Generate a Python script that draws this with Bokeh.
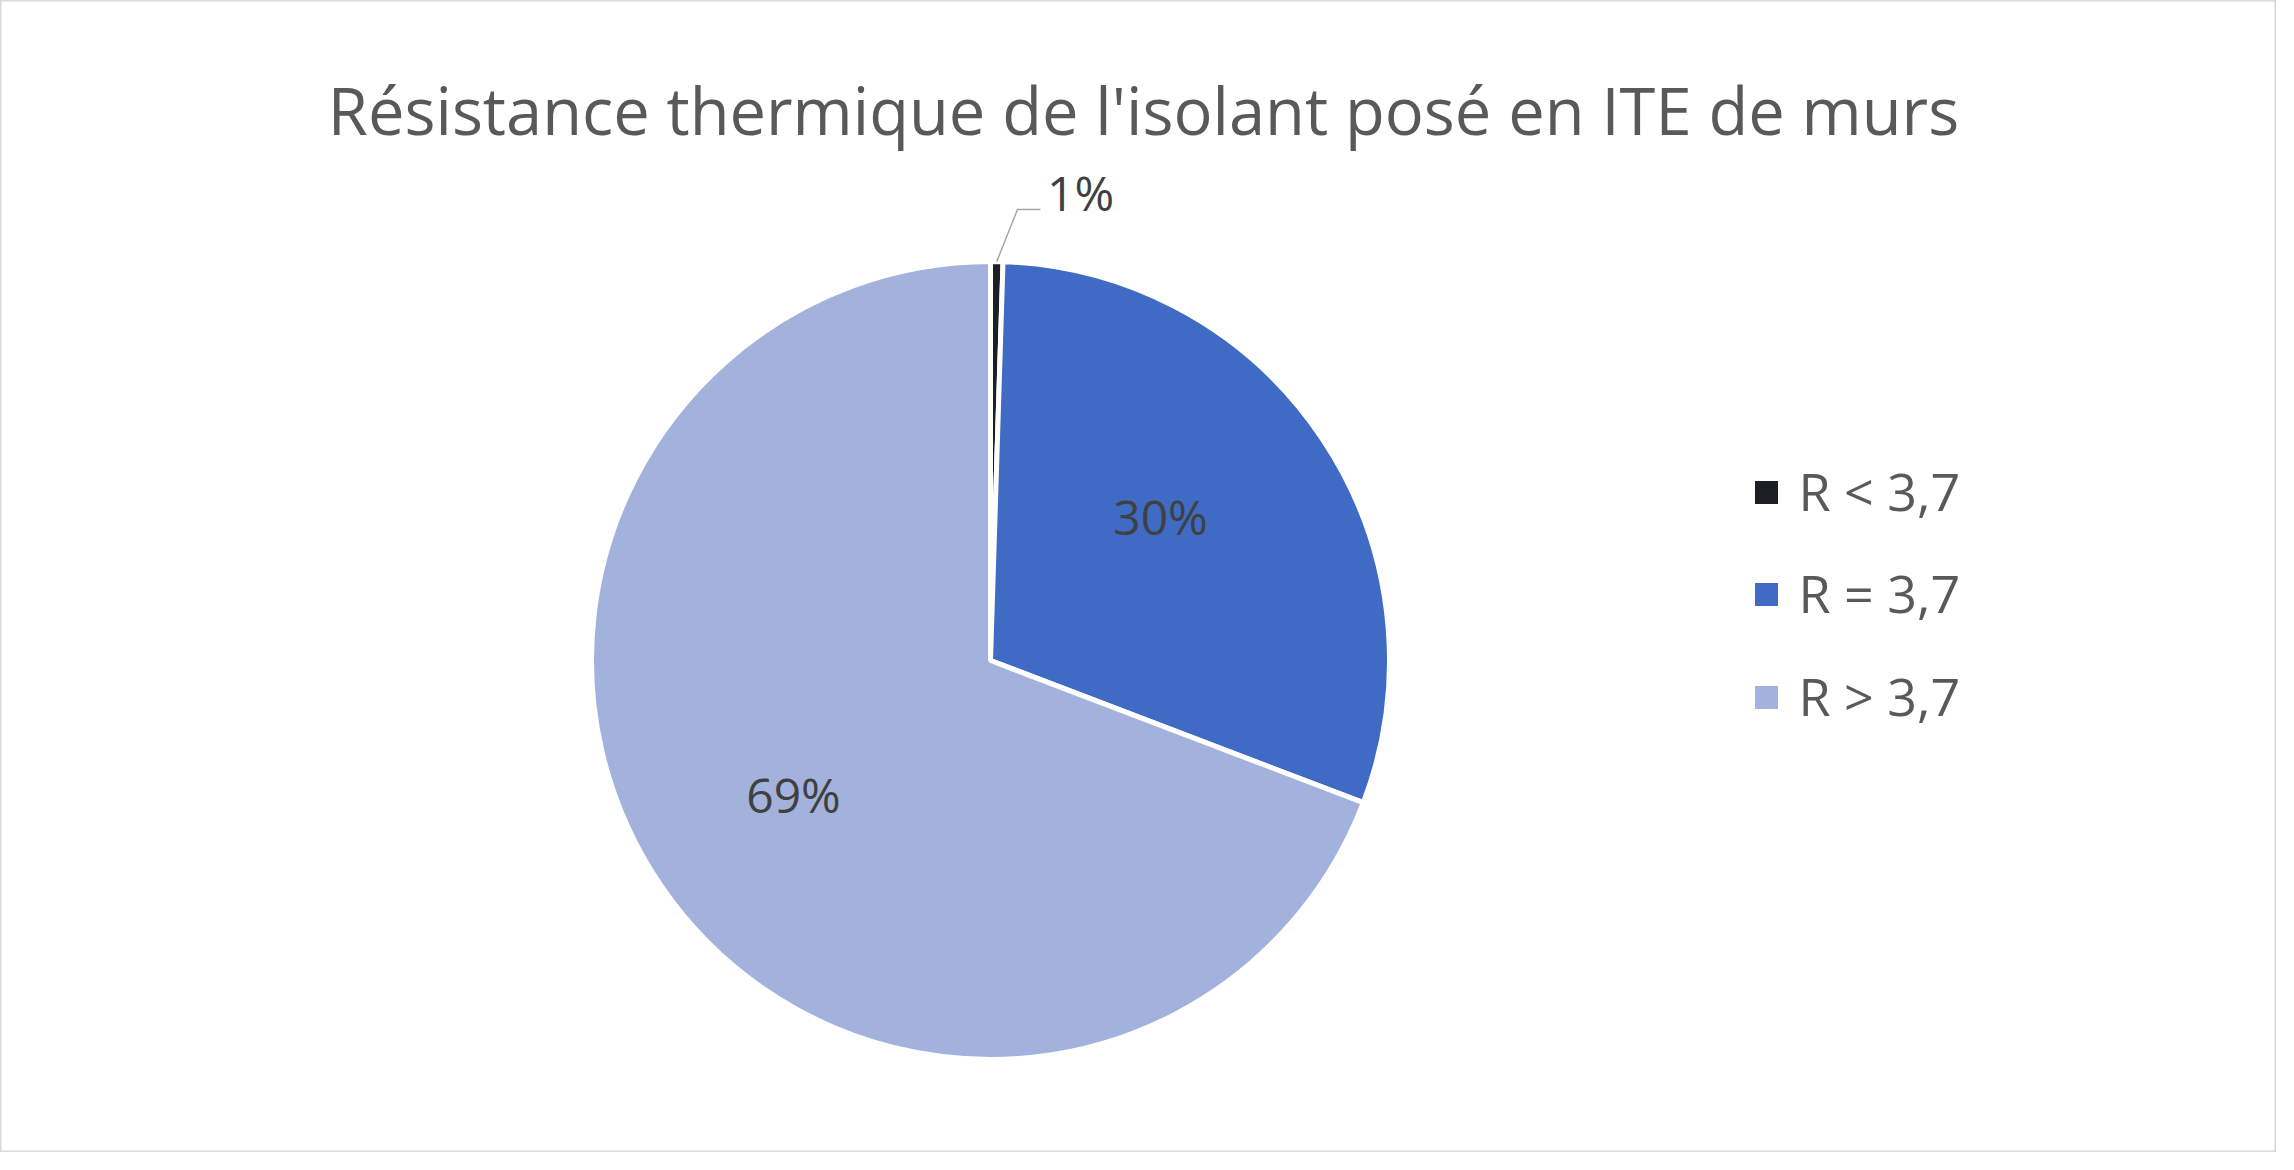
import math
from bokeh.plotting import figure
from bokeh.models import Range1d, ColumnDataSource
from bokeh.core.properties import value
from bokeh.embed import file_html
from bokeh.resources import INLINE

# ---- data ----
title_text = "Résistance thermique de l'isolant posé en ITE de murs"
categories = ["R < 3,7", "R = 3,7", "R > 3,7"]
shares = [0.5, 30.3, 69.2]          # percent
pct_labels = ["1%", "30%", "69%"]
colors = ["#1b1e23", "#3f6bc5", "#a3b2dc"]

# ---- layout (screen pixels) ----
W, H = 2276, 1152
FONT = "Open Sans"

def dx(sx):
    return sx - 8

def dy(sy):
    return H - (sy - 8)

cx, cy, R = dx(998), dy(668), 399

p = figure(width=W, height=H, output_backend="svg", toolbar_location=None,
           x_range=Range1d(0, W), y_range=Range1d(0, H),
           min_border=0, tools="")
p.axis.visible = False
p.grid.visible = False
p.background_fill_color = "white"
p.border_fill_color = "white"
p.outline_line_color = "#d9d9d9"
p.outline_line_width = 2

# wedges, clockwise from 12 o'clock
total = sum(shares)
starts, ends = [], []
acc = 0.0
for s in shares:
    starts.append(math.pi / 2 - 2 * math.pi * acc / total)
    acc += s
    ends.append(math.pi / 2 - 2 * math.pi * acc / total)

src = ColumnDataSource(dict(x=[cx] * len(shares), y=[cy] * len(shares),
                            start=starts, end=ends, color=colors, cat=categories))
p.wedge(x="x", y="y", radius=R, start_angle="start", end_angle="end",
        direction="clock", fill_color="color", line_color="white",
        line_width=5, source=src)

# title
p.text(x=[dx(1151)], y=[dy(117)], text=[title_text], text_align="center",
       text_baseline="alphabetic", text_font=value(FONT),
       text_font_size="65px", text_color="#595959")

# data labels
lab_x = [dx(1088), dx(1168), dx(801)]
lab_y = [dy(200), dy(524), dy(802)]
p.text(x=lab_x, y=lab_y, text=pct_labels, text_align="center",
       text_baseline="middle", text_font=value(FONT),
       text_font_size="48px", text_color="#404040")

# leader line for the small slice
mid0 = (starts[0] + ends[0]) / 2
lx0 = cx + R * math.cos(mid0)
ly0 = cy + R * math.sin(mid0)
p.line(x=[lx0, lab_x[0] - 63, lab_x[0] - 40],
       y=[ly0, lab_y[0] - 17, lab_y[0] - 17],
       line_color="#a6a6a6", line_width=1.5)

# legend (manual)
leg_x = dx(1774)
leg_y = [dy(500), dy(602), dy(705)]
p.scatter(x=[leg_x] * 3, y=leg_y, marker="square", size=23,
          fill_color=colors, line_color=None)
p.text(x=[dx(1806)] * 3, y=[v + 2 for v in leg_y], text=categories,
       text_align="left", text_baseline="middle", text_font=value(FONT),
       text_font_size="52px", text_color="#595959")

open("out.html", "w").write(file_html(p, INLINE))
